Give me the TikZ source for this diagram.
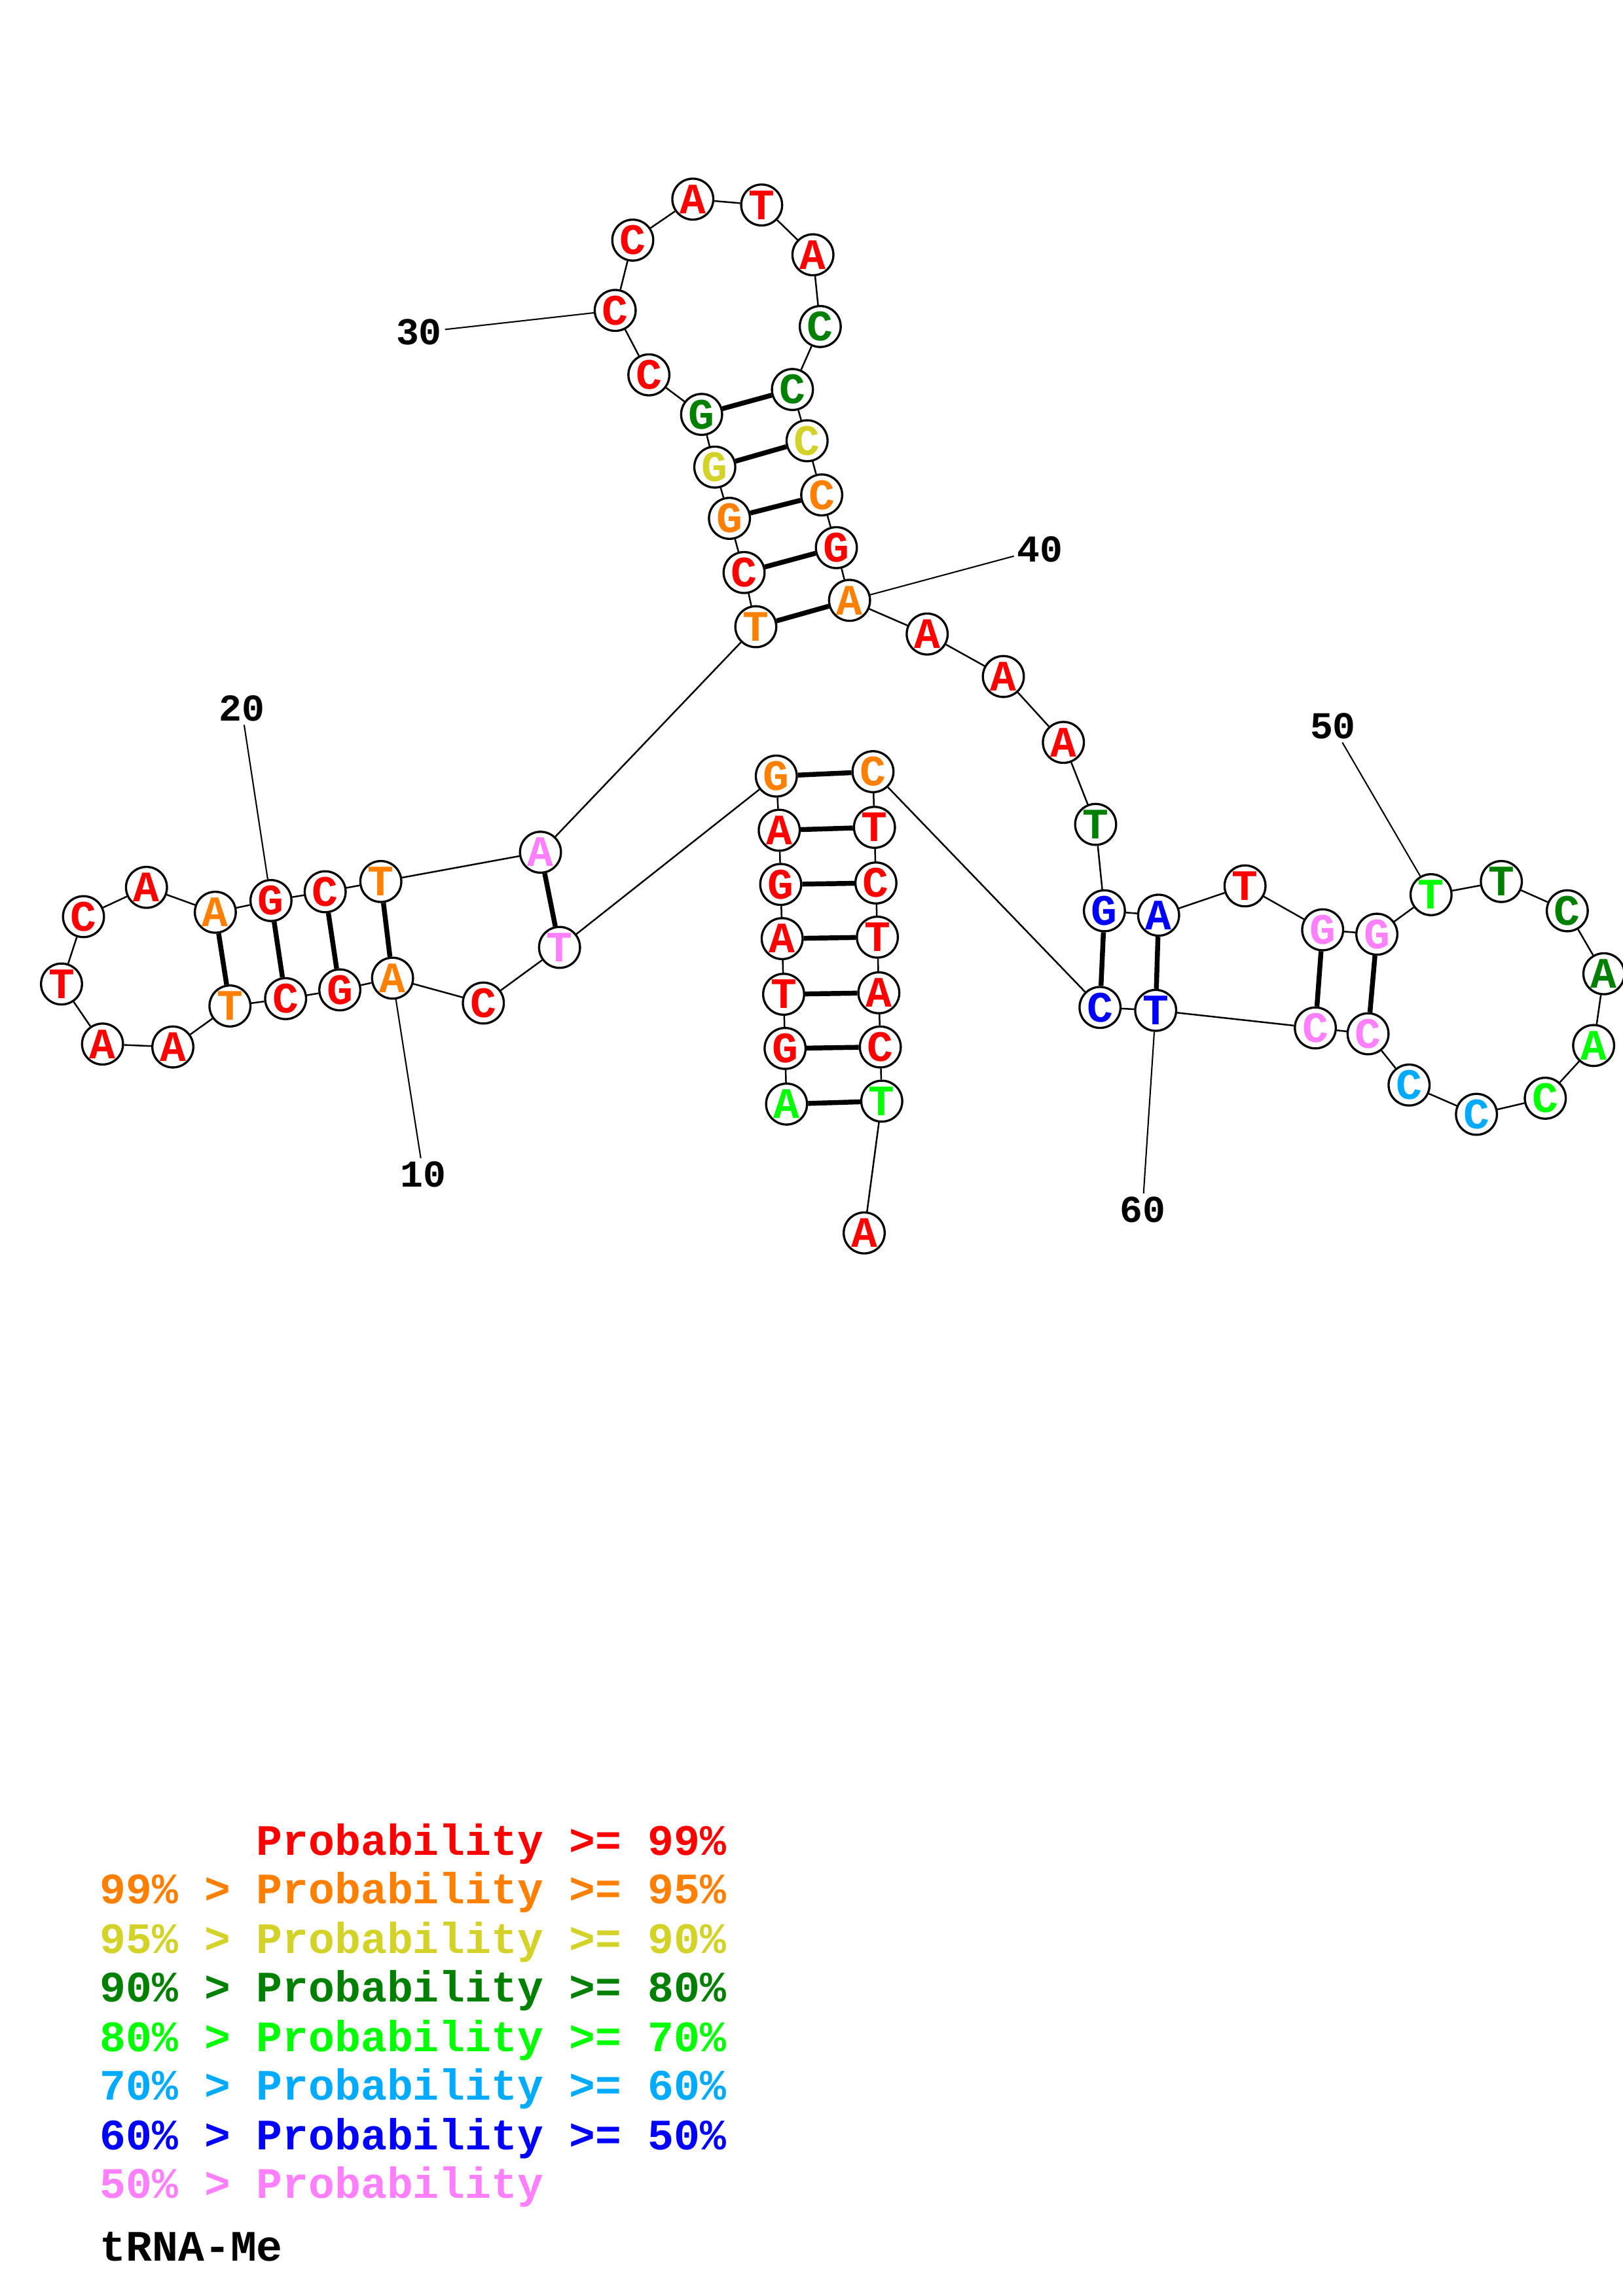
\documentclass[tikz,border=0pt]{standalone}
\usepackage{fontspec}
\newfontfamily\lmono{Liberation Mono}
\definecolor{c99}{RGB}{255,0,0}
\definecolor{c95}{RGB}{255,128,0}
\definecolor{c90}{RGB}{210,210,40}
\definecolor{c80}{RGB}{0,128,0}
\definecolor{c70}{RGB}{0,255,0}
\definecolor{c60}{RGB}{0,170,255}
\definecolor{c50}{RGB}{0,0,255}
\definecolor{c00}{RGB}{255,128,255}

\begin{document}
\begin{tikzpicture}[x=0.18953mm,y=-0.18953mm,
    base/.style={circle,draw,fill=white,line width=0.8pt,inner sep=0pt,
      minimum size=5.3mm,font=\lmono\bfseries\fontsize{16}{16}\selectfont},
    pair/.style={line width=1.8pt},
    num/.style={inner sep=1pt,font=\lmono\bfseries\fontsize{14}{14}\selectfont},
    leg/.style={anchor=base west,inner sep=0pt,
      font=\lmono\bfseries\fontsize{16}{16}\selectfont}]
  \useasboundingbox (0,0) rectangle (1108,1568);
  % nucleotides: number/x/y/base/colour
  \foreach \i/\x/\y/\b/\c in {
      1/537/754/A/c70, 2/536/716/G/c99, 3/535/679/T/c99, 4/534/641/A/c99,
      5/533/604/G/c99, 6/532/567/A/c99, 7/530/530/G/c95, 8/382/647/T/c00,
      9/330/685/C/c99, 10/268/668/A/c95, 11/232/676/G/c99, 12/195/682/C/c99,
      13/157/687/T/c95, 14/118/715/A/c99, 15/70/713/A/c99, 16/42/672/T/c99,
      17/57/626/C/c99, 18/100/606/A/c99, 19/147/623/A/c95, 20/185/615/G/c99,
      21/222/609/C/c99, 22/260/602/T/c95, 23/369/582/A/c00, 24/516/428/T/c95,
      25/508/391/C/c99, 26/498/354/G/c95, 27/488/319/G/c90, 28/479/283/G/c80,
      29/443/256/C/c99, 30/420/212/C/c99, 31/432/164/C/c99, 32/473/136/A/c99,
      33/520/140/T/c99, 34/555/174/A/c99, 35/560/223/C/c80, 36/541/266/C/c80,
      37/551/301/C/c90, 38/561/338/C/c95, 39/571/374/G/c99, 40/580/410/A/c95,
      41/633/433/A/c99, 42/685/462/A/c99, 43/726/507/A/c99, 44/748/563/T/c80,
      45/754/622/G/c50, 46/791/625/A/c50, 47/850/605/T/c99, 48/903/635/G/c00,
      49/940/638/G/c00, 50/977/611/T/c70, 51/1025/602/T/c80, 52/1070/622/C/c80,
      53/1095/665/A/c80, 54/1088/714/A/c70, 55/1055/750/C/c70, 56/1008/761/C/c60,
      57/962/741/C/c60, 58/934/706/C/c00, 59/898/702/C/c00, 60/789/690/T/c50,
      61/751/688/C/c50, 62/596/527/C/c95, 63/597/565/T/c99, 64/598/603/C/c99,
      65/599/640/T/c99, 66/600/678/A/c99, 67/601/715/C/c99, 68/602/752/T/c70,
      69/590/842/A/c99}
    \node[base,text=\c] (n\i) at (\x,\y) {\b};
  % backbone
  \foreach \i [evaluate=\i as \j using int(\i+1)] in {1,...,68}
    \draw[line width=0.6pt] (n\i) -- (n\j);
  % base pairs
  \foreach \i/\j in {1/68,2/67,3/66,4/65,5/64,6/63,7/62,8/23,10/22,11/21,
      12/20,13/19,24/40,25/39,26/38,27/37,28/36,45/61,46/60,48/59,49/58}
    \draw[pair] (n\i) -- (n\j);
  % position numbers
  \foreach \k/\x/\y in {10/289/802,20/165/484,30/286/227,40/710/375,
      50/910/496,60/780/826} {
    \node[num] (l\k) at (\x,\y) {\k};
    \draw[line width=0.5pt] (l\k) -- (n\k);
  }
  % legend
  \node[leg,text=c99] (g1) at (68,1267) {\phantom{99\% >} Probability >= 99\%};
  \node[leg,text=c95] (g2) at (68,1300) {99\% > Probability >= 95\%};
  \node[leg,text=c90] (g3) at (68,1334) {95\% > Probability >= 90\%};
  \node[leg,text=c80] (g4) at (68,1367) {90\% > Probability >= 80\%};
  \node[leg,text=c70] (g5) at (68,1401) {80\% > Probability >= 70\%};
  \node[leg,text=c60] (g6) at (68,1434) {70\% > Probability >= 60\%};
  \node[leg,text=c50] (g7) at (68,1468) {60\% > Probability >= 50\%};
  \node[leg,text=c00] (g8) at (68,1501) {50\% > Probability};
  \node[leg] (title) at (68,1544) {tRNA-Me};
\end{tikzpicture}
\end{document}
